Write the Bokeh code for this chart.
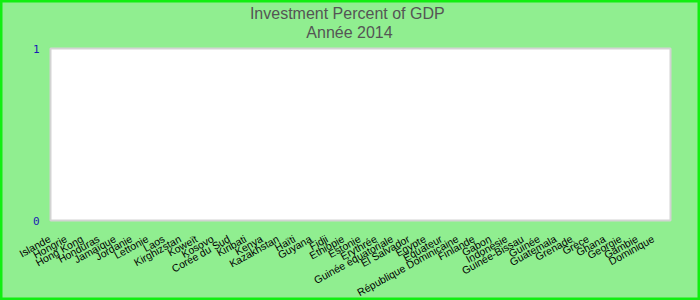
from bokeh.plotting import figure
from bokeh.models import Range1d, Label
from bokeh.core.properties import value
from bokeh.embed import file_html
from bokeh.resources import INLINE
import math

title_line1 = "Investment  Percent of GDP"
title_line2 = "Année 2014"

countries = [
    "Islande", "Hongrie", "Hong Kong", "Honduras", "Jamaïque", "Jordanie",
    "Lettonie", "Laos", "Kirghizstan", "Koweït", "Kosovo", "Corée du Sud",
    "Kiribati", "Kenya", "Kazakhstan", "Haïti", "Guyana", "Fidji", "Ethiopie",
    "Estonie", "Erythrée", "Guinée équatoriale", "El Salvador", "Egypte",
    "Equateur", "République Dominicaine", "Finlande", "Gabon", "Indonésie",
    "Guinée-Bissau", "Guinée", "Guatemala", "Grenade", "Grèce", "Ghana",
    "Georgie", "Gambie", "Dominique",
]
values = [0] * len(countries)
y_ticks = [0, 1]
y_tick_labels = ["0", "1"]

# ---- layout (pixels) ----
W, H = 700, 300
PLOT_L, PLOT_R, PLOT_T, PLOT_B = 50, 670, 48, 220

n = len(countries)
idx = list(range(n))
x0, x1 = -0.5, n - 0.5
ppx = (PLOT_R - PLOT_L) / (x1 - x0)
y0, y1 = min(y_ticks), max(y_ticks)
ppy = (PLOT_B - PLOT_T) / (y1 - y0)

p = figure(
    width=W, height=H,
    x_range=Range1d(x0 - PLOT_L / ppx, x1 + (W - PLOT_R) / ppx),
    y_range=Range1d(y0 - (H - PLOT_B) / ppy, y1 + PLOT_T / ppy),
    output_backend="svg", toolbar_location=None,
    x_axis_type=None, y_axis_type=None,
    min_border=0,
)
p.title = None
p.background_fill_color = "#90EE90"
p.border_fill_color = "#90EE90"
p.outline_line_color = "#11ee11"
p.outline_line_width = 4
p.xgrid.visible = False
p.ygrid.visible = False

# plot area
p.quad(left=[x0], right=[x1], bottom=[y0], top=[y1],
       fill_color="white", line_color="#d3d3d3", line_width=2)

# bars (all zero)
p.vbar(x=idx, top=values, width=0.7, fill_color="#4472c4", line_color=None)

# y tick labels
p.text(x=[x0] * len(y_ticks), y=y_ticks, text=y_tick_labels,
       text_align="right", text_baseline="middle", x_offset=-11,
       text_font=value("DejaVu Sans Mono"), text_font_size="11px",
       text_color="#1a1ab4")

# x category labels
p.text(x=idx, y=[y0] * n, text=countries,
       angle=math.radians(29), text_align="right", text_baseline="top",
       x_offset=-12, y_offset=12,
       text_font=value("Liberation Sans"), text_font_size="10.5px",
       text_color="black")

# titles
for txt, ty in ((title_line1, H - 13), (title_line2, H - 32)):
    p.add_layout(Label(x=W / 2 - 1, y=ty, x_units="screen", y_units="screen",
                       text=txt, text_align="center", text_baseline="middle",
                       text_font="Liberation Sans", text_font_size="16px",
                       text_color="#555555"))

open("out.html", "w").write(file_html(p, INLINE))
